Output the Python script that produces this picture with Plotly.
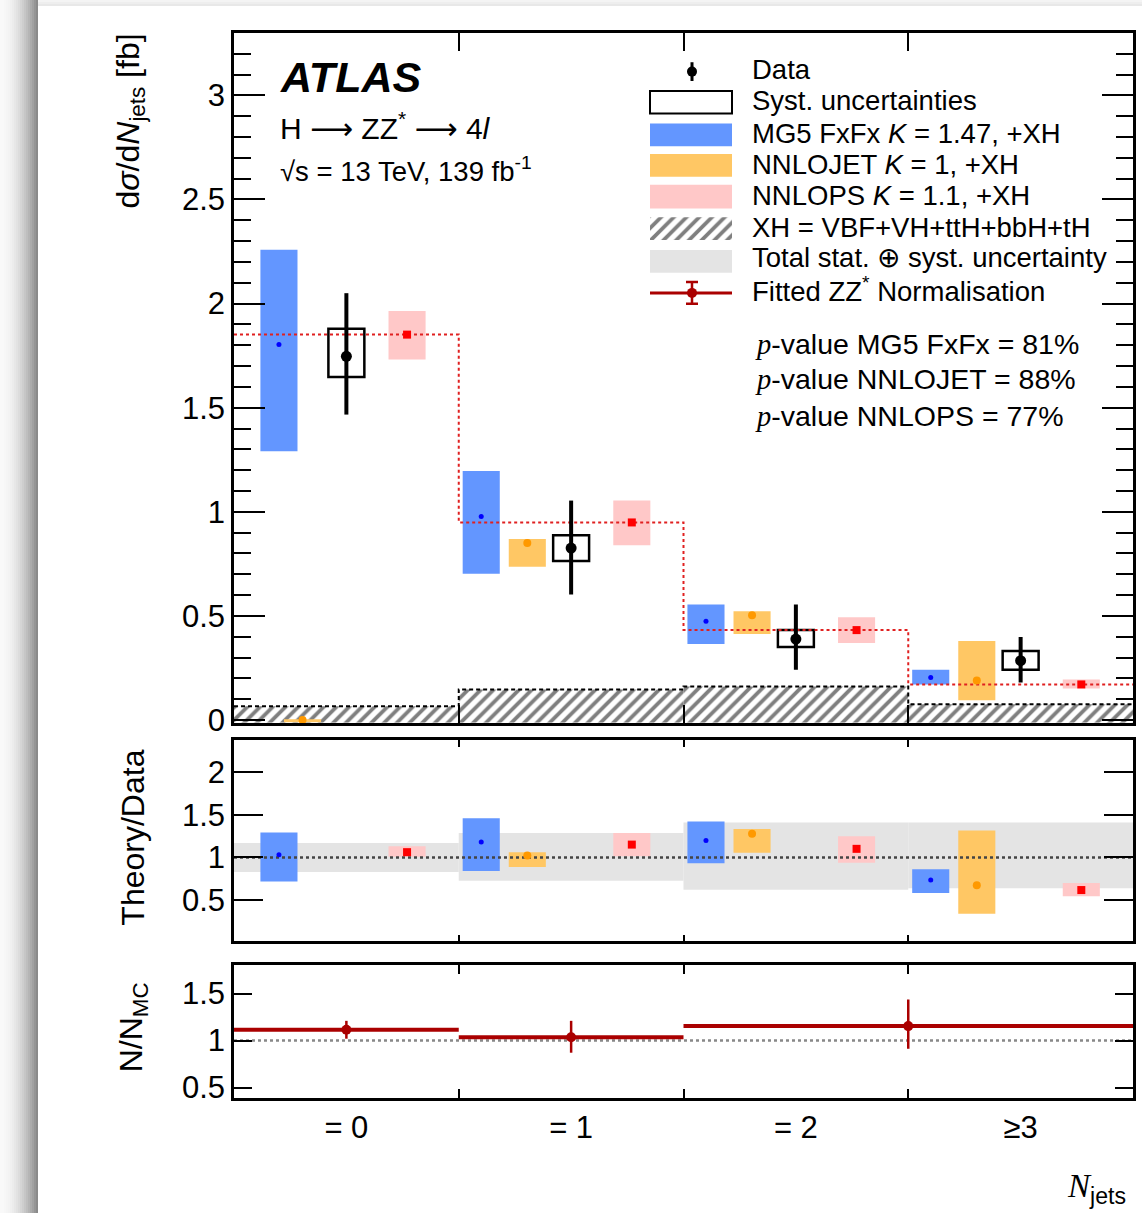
import plotly.graph_objects as go

# ---------------------------------------------------------------- data
bins = ["= 0", "= 1", "= 2", "≥3"]

# measured cross section [fb]
data_val = [1.747, 0.826, 0.389, 0.285]
data_tot_lo = [1.467, 0.603, 0.242, 0.180]
data_tot_hi = [2.050, 1.054, 0.555, 0.399]
data_syst_lo = [1.647, 0.764, 0.351, 0.242]
data_syst_hi = [1.879, 0.888, 0.432, 0.332]

# predictions [fb]
mg5_val = [1.803, 0.978, 0.475, 0.204]
mg5_lo = [1.291, 0.702, 0.365, 0.171]
mg5_hi = [2.259, 1.196, 0.555, 0.242]

nnlojet_val = [0.000, 0.850, 0.503, 0.190]
nnlojet_lo = [-0.010, 0.736, 0.413, 0.095]
nnlojet_hi = [0.004, 0.869, 0.522, 0.380]

nnlops_val = [1.851, 0.949, 0.432, 0.171]
nnlops_lo = [1.732, 0.840, 0.370, 0.152]
nnlops_hi = [1.965, 1.054, 0.494, 0.195]

xh_val = [0.066, 0.147, 0.161, 0.076]

# theory / data
ratio_tot_lo = [0.829, 0.724, 0.620, 0.636]
ratio_tot_hi = [1.171, 1.287, 1.410, 1.410]

mg5_ratio = [1.031, 1.183, 1.198, 0.733]
mg5_ratio_lo = [0.717, 0.841, 0.930, 0.581]
mg5_ratio_hi = [1.294, 1.462, 1.422, 0.860]

nnlojet_ratio = [None, 1.023, 1.279, 0.671]
nnlojet_ratio_lo = [None, 0.887, 1.055, 0.337]
nnlojet_ratio_hi = [None, 1.062, 1.334, 1.317]

nnlops_ratio = [1.062, 1.151, 1.101, 0.616]
nnlops_ratio_lo = [1.008, 1.015, 0.938, 0.543]
nnlops_ratio_hi = [1.131, 1.287, 1.248, 0.698]

# fitted ZZ* normalisation (last region merges =2 and >=3)
norm_edges = [0, 1, 2, 4]
norm_val = [1.115, 1.036, 1.154]
norm_lo = [1.020, 0.871, 0.913]
norm_hi = [1.210, 1.210, 1.438]

p_values = [("MG5 FxFx", "81%"), ("NNLOJET", "88%"), ("NNLOPS", "77%")]

# ---------------------------------------------------------------- style
W, H = 1142, 1228
FONT = "Liberation Sans"
SERIF = "Liberation Serif"

C_BLUE, C_BLUE_M = "#6396FF", "#0000FF"
C_ORANGE, C_ORANGE_M = "#FFC764", "#FF9900"
C_PINK, C_PINK_M = "#FFC8C8", "#FF0000"
C_GREY = "#E4E4E4"
C_DRED = "#AA0000"

BAR_W = 0.165
OFF_MG5 = [0.20, 0.10, 0.10, 0.10]
OFF_NNLOJET = 0.305
OFF_DATA = 0.50
OFF_NNLOPS = 0.77

Y_MAIN = [-0.013, 3.3]
Y_RATIO = [0.012, 2.384]
Y_NORM = [0.388, 1.8]

HATCH = dict(shape="/", fgcolor="black", bgcolor="white", size=9, solidity=0.42)


def px(x):
    return x / W


def py(y):
    return 1 - y / H


X_DOM = [px(234), px(1133)]

fig = go.Figure()


def band(xs, lo, hi, color, xa, ya, width=BAR_W):
    xx, bb, hh = [], [], []
    for x, l, u in zip(xs, lo, hi):
        if l is None:
            continue
        xx.append(x)
        bb.append(l)
        hh.append(u - l)
    fig.add_trace(go.Bar(x=xx, base=bb, y=hh, width=width,
                         marker=dict(color=color, line=dict(width=0)),
                         xaxis=xa, yaxis=ya, showlegend=False, hoverinfo="skip"))


def dots(xs, vals, color, symbol, size, xa, ya):
    xx = [x for x, v in zip(xs, vals) if v is not None]
    vv = [v for v in vals if v is not None]
    fig.add_trace(go.Scatter(x=xx, y=vv, mode="markers",
                             marker=dict(color=color, symbol=symbol, size=size, line=dict(width=0)),
                             xaxis=xa, yaxis=ya, showlegend=False, cliponaxis=False))


n = len(bins)
centers = [i + 0.5 for i in range(n)]
x_mg5 = [i + OFF_MG5[i] for i in range(n)]
x_nnlojet = [i + OFF_NNLOJET for i in range(n)]
x_data = [i + OFF_DATA for i in range(n)]
x_nnlops = [i + OFF_NNLOPS for i in range(n)]
edges = list(range(n + 1))

# ---------------------------------------------------------------- main panel
# XH contribution (hatched)
fig.add_trace(go.Bar(x=centers, base=[Y_MAIN[0]] * n, y=[v - Y_MAIN[0] for v in xh_val], width=1,
                     marker=dict(color="white", line=dict(width=0), pattern=HATCH),
                     xaxis="x", yaxis="y", showlegend=False))
fig.add_trace(go.Scatter(x=edges, y=xh_val + [xh_val[-1]], mode="lines", line_shape="hv",
                         line=dict(color="black", width=2, dash="4px,3px"),
                         xaxis="x", yaxis="y", showlegend=False))
# NNLOPS central value as a dotted step
fig.add_trace(go.Scatter(x=edges, y=nnlops_val + [nnlops_val[-1]], mode="lines", line_shape="hv",
                         line=dict(color="#E02020", width=2, dash="dot"),
                         xaxis="x", yaxis="y", showlegend=False))

band(x_mg5, mg5_lo, mg5_hi, C_BLUE, "x", "y")
band(x_nnlojet, nnlojet_lo, nnlojet_hi, C_ORANGE, "x", "y")
band(x_nnlops, nnlops_lo, nnlops_hi, C_PINK, "x", "y")
dots(x_mg5, mg5_val, C_BLUE_M, "circle", 5, "x", "y")
dots(x_nnlojet, nnlojet_val, C_ORANGE_M, "circle", 8, "x", "y")
dots(x_nnlops, nnlops_val, C_PINK_M, "square", 8, "x", "y")

# data: systematic boxes and total error bars
fig.add_trace(go.Bar(x=x_data, base=data_syst_lo,
                     y=[u - l for u, l in zip(data_syst_hi, data_syst_lo)], width=0.16,
                     marker=dict(color="rgba(0,0,0,0)", line=dict(color="black", width=2.5)),
                     xaxis="x", yaxis="y", showlegend=False))
fig.add_trace(go.Scatter(x=x_data, y=data_val, mode="markers",
                         marker=dict(color="black", size=11),
                         error_y=dict(type="data", symmetric=False,
                                      array=[u - v for u, v in zip(data_tot_hi, data_val)],
                                      arrayminus=[v - l for v, l in zip(data_val, data_tot_lo)],
                                      thickness=4, width=0, color="black"),
                         xaxis="x", yaxis="y", showlegend=False))

# ---------------------------------------------------------------- ratio panel
band(centers, ratio_tot_lo, ratio_tot_hi, C_GREY, "x2", "y2", width=1)
fig.add_trace(go.Scatter(x=[0, n], y=[1, 1], mode="lines",
                         line=dict(color="#444444", width=2.5, dash="dot"),
                         xaxis="x2", yaxis="y2", showlegend=False))
band(x_mg5, mg5_ratio_lo, mg5_ratio_hi, C_BLUE, "x2", "y2")
band(x_nnlojet, nnlojet_ratio_lo, nnlojet_ratio_hi, C_ORANGE, "x2", "y2")
band(x_nnlops, nnlops_ratio_lo, nnlops_ratio_hi, C_PINK, "x2", "y2")
dots(x_mg5, mg5_ratio, C_BLUE_M, "circle", 5, "x2", "y2")
dots(x_nnlojet, nnlojet_ratio, C_ORANGE_M, "circle", 8, "x2", "y2")
dots(x_nnlops, nnlops_ratio, C_PINK_M, "square", 8, "x2", "y2")

# ---------------------------------------------------------------- normalisation panel
fig.add_trace(go.Scatter(x=[0, n], y=[1, 1], mode="lines",
                         line=dict(color="#888888", width=2.5, dash="dot"),
                         xaxis="x3", yaxis="y3", showlegend=False))
norm_x = [(a + b) / 2 for a, b in zip(norm_edges[:-1], norm_edges[1:])]
norm_hw = [(b - a) / 2 for a, b in zip(norm_edges[:-1], norm_edges[1:])]
fig.add_trace(go.Scatter(x=norm_x, y=norm_val, mode="markers",
                         marker=dict(color=C_DRED, size=10),
                         error_x=dict(type="data", array=norm_hw, thickness=4, width=0, color=C_DRED),
                         error_y=dict(type="data", symmetric=False,
                                      array=[u - v for u, v in zip(norm_hi, norm_val)],
                                      arrayminus=[v - l for v, l in zip(norm_val, norm_lo)],
                                      thickness=2.5, width=0, color=C_DRED),
                         xaxis="x3", yaxis="y3", showlegend=False, cliponaxis=False))

# ---------------------------------------------------------------- legend (pixel-space overlay)
LX0, LX1, LXC, LTX = 650, 732, 692, 750
shapes = []


def lrect(y0, y1, fill, line_color=None, lw=0):
    shapes.append(dict(type="rect", xref="x4", yref="y4", x0=LX0, x1=LX1, y0=y0, y1=y1,
                       fillcolor=fill, line=dict(color=line_color or fill, width=lw), layer="above"))


fig.add_trace(go.Scatter(x=[LXC], y=[72.5], mode="markers", marker=dict(color="black", size=10),
                         error_y=dict(type="constant", value=9.5, thickness=3, width=0, color="black"),
                         xaxis="x4", yaxis="y4", showlegend=False, cliponaxis=False))
lrect(92, 115, "rgba(0,0,0,0)", "black", 2)
lrect(125, 148, C_BLUE)
lrect(156, 179, C_ORANGE)
lrect(187, 211, C_PINK)
lrect(253, 276, C_GREY)
fig.add_trace(go.Bar(x=[(LX0 + LX1) / 2], base=[220], y=[23], width=LX1 - LX0,
                     marker=dict(color="white", line=dict(width=0), pattern=HATCH),
                     xaxis="x4", yaxis="y4", showlegend=False))
fig.add_trace(go.Scatter(x=[LX0, LX1], y=[296.5, 296.5], mode="lines",
                         line=dict(color=C_DRED, width=3),
                         xaxis="x4", yaxis="y4", showlegend=False, cliponaxis=False))
fig.add_trace(go.Scatter(x=[LXC, LXC, LXC], y=[136.5, 167.5, 199], mode="markers",
                         marker=dict(color=[C_BLUE_M, C_ORANGE_M, C_PINK_M],
                                     symbol=["circle", "circle", "square"], size=[5, 8, 8]),
                         xaxis="x4", yaxis="y4", showlegend=False, cliponaxis=False))
fig.add_trace(go.Scatter(x=[LXC], y=[296.5], mode="markers", marker=dict(color=C_DRED, size=10),
                         error_y=dict(type="constant", value=11, thickness=2.5, width=6, color=C_DRED),
                         xaxis="x4", yaxis="y4", showlegend=False, cliponaxis=False))

legend_rows = [
    (70, "Data"),
    (102, "Syst. uncertainties"),
    (135, "MG5 FxFx <i>K</i> = 1.47, +XH"),
    (167, "NNLOJET <i>K</i> = 1, +XH"),
    (198, "NNLOPS <i>K</i> = 1.1, +XH"),
    (230, "XH = VBF+VH+ttH+bbH+tH"),
    (261, "Total stat. ⊕ syst. uncertainty"),
    (293, "Fitted ZZ<sup>*</sup> Normalisation"),
]

annotations = []


def label(x, y, text, size, xanchor="left", yanchor="middle", angle=0, family=FONT):
    annotations.append(dict(x=x, y=y, xref="x4", yref="y4", text=text, showarrow=False,
                            xanchor=xanchor, yanchor=yanchor, textangle=angle,
                            font=dict(family=family, size=size, color="black")))


for y, t in legend_rows:
    label(LTX, y, t, 27.5)

# experiment labels
ARROW = "<span style='font-family:DejaVu Sans'>⟶</span>"
label(278, 78, "<b><i>ATLAS</i></b>", 43)
label(278, 128, f"H {ARROW} ZZ<sup>*</sup> {ARROW} 4<i>l</i>", 30)
label(278, 172, "√s = 13 TeV, 139 fb<sup>-1</sup>", 27.5)

for k, (name, val) in enumerate(p_values):
    label(753, [348, 384, 421][k],
          f"<span style='font-family:{SERIF}'><i>p</i></span>-value {name} = {val}", 28.5)

# axis titles
label(130, 123, "d<i>σ</i>/d<i>N</i><sub>jets</sub> [fb]", 32, xanchor="center", angle=-90)
label(133, 848, "Theory/Data", 32, xanchor="center", angle=-90)
label(133, 1040, "N/N<sub>MC</sub>", 32, xanchor="center", angle=-90)
label(1128, 1203, f"<span style='font-family:{SERIF}'><i>N</i></span><sub>jets</sub>", 33,
      xanchor="right")

# page background: card with soft shadow on the left and top
bg_shapes = []
for i in range(19):
    x0 = 2 * i
    g = int(250 - 118 * ((x0 + 1) / 38) ** 2)
    bg_shapes.append(dict(type="rect", xref="paper", yref="paper", x0=px(x0), x1=px(x0 + 2),
                          y0=0, y1=1, fillcolor=f"rgb({g},{g},{g})", line=dict(width=0), layer="below"))
for j, g in enumerate([244, 238, 232]):
    bg_shapes.append(dict(type="rect", xref="paper", yref="paper", x0=px(38), x1=1,
                          y0=py(2 * j + 2), y1=py(2 * j), fillcolor=f"rgb({g},{g},{g})",
                          line=dict(width=0), layer="below"))

# ---------------------------------------------------------------- axes
tick_font = dict(family=FONT, size=31, color="black")
frame = dict(showline=True, linecolor="black", linewidth=2.5, mirror="allticks",
             showgrid=False, zeroline=False, ticks="inside", tickcolor="black", tickwidth=2)


def xaxis(anchor, ticklen, labels):
    return dict(frame, domain=X_DOM, range=[0, n], anchor=anchor,
                tickmode="array", tickvals=centers, ticktext=bins, ticklen=0,
                showticklabels=labels, tickfont=tick_font,
                minor=dict(tickmode="array", tickvals=edges[1:-1], ticks="inside",
                           ticklen=ticklen, tickcolor="black", tickwidth=2, showgrid=False))


fig.update_layout(
    width=W, height=H, autosize=False,
    margin=dict(l=0, r=0, t=0, b=0),
    paper_bgcolor="white", plot_bgcolor="rgba(0,0,0,0)",
    barmode="overlay", showlegend=False,
    font=dict(family=FONT, color="black"),
    xaxis=xaxis("y", 18, False),
    xaxis2=xaxis("y2", 7, False),
    xaxis3=xaxis("y3", 9, True),
    yaxis=dict(frame, domain=[py(731.7), py(33.3)], range=Y_MAIN, anchor="x",
               tickmode="array", tickvals=[0, 0.5, 1, 1.5, 2, 2.5, 3],
               ticktext=["0", "0.5", "1", "1.5", "2", "2.5", "3"], ticklen=31, tickfont=tick_font,
               minor=dict(dtick=0.1, tick0=0, ticks="inside", ticklen=17, tickcolor="black",
                          tickwidth=2, showgrid=False)),
    yaxis2=dict(frame, domain=[py(953), py(749)], range=Y_RATIO, anchor="x2",
                tickmode="array", tickvals=[0.5, 1, 1.5, 2], ticktext=["0.5", "1", "1.5", "2"],
                ticklen=29, tickfont=tick_font),
    yaxis3=dict(frame, domain=[py(1111.7), py(977.3)], range=Y_NORM, anchor="x3",
                tickmode="array", tickvals=[0.5, 1, 1.5], ticktext=["0.5", "1", "1.5"],
                ticklen=18, tickfont=tick_font),
    xaxis4=dict(domain=[0, 1], range=[0, W], visible=False, anchor="y4", fixedrange=True),
    yaxis4=dict(domain=[0, 1], range=[H, 0], visible=False, anchor="x4", fixedrange=True),
    shapes=bg_shapes + shapes,
    annotations=annotations,
)

fig.write_html("out.html")
